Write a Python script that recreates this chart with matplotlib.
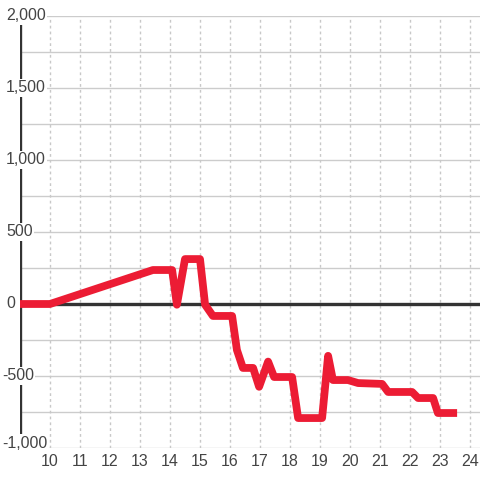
import matplotlib
matplotlib.use('agg')
import matplotlib.pyplot as plt
from matplotlib.transforms import blended_transform_factory, offset_copy

plt.rcParams['font.family'] = ['Liberation Sans', 'DejaVu Sans']

# series
x_vals = [9, 10, 13.43, 14.07, 14.23, 14.5, 15.0, 15.17, 15.43, 16.07, 16.23, 16.43,
          16.77, 16.97, 17.27, 17.47, 18.07, 18.27, 19.07, 19.27, 19.43, 19.93,
          20.27, 21.07, 21.27, 22.07, 22.27, 22.77, 22.93, 23.57]
y_vals = [0, 0, 236, 236, -5, 312, 312, -5, -83, -83, -319, -444,
          -444, -575, -400, -507, -507, -792, -792, -360, -528, -528,
          -549, -555, -611, -611, -653, -653, -757, -757]
x_ticks = list(range(10, 25))
y_ticks = [-1000, -500, 0, 500, 1000, 1500, 2000]
y_grid = list(range(-1000, 2001, 250))

fig = plt.figure(figsize=(4.8, 4.8), dpi=100)
ax = fig.add_axes([20/480., 32/480., 460/480., 432/480.])
ax.set_xlim(9, 9 + 460/30.)
ax.set_ylim(-1000, 2000)

for s in ax.spines.values():
    s.set_visible(False)

for v in y_grid:
    ax.axhline(v, color='#cccccc', lw=1, zorder=1)
for v in x_ticks:
    ax.axvline(v, color='#c8c8c8', lw=1, ls=(0, (2, 2.2)), zorder=1)

ax.axhline(0, color='#333333', lw=2.4, zorder=2)
ax.axvline(9, color='#333333', lw=2.4, zorder=2)

ax.plot(x_vals, y_vals, color='#ec1c34', lw=5.6, zorder=3,
        solid_joinstyle='round', solid_capstyle='butt')

ax.set_xticks(x_ticks)
ax.set_xticklabels([str(t) for t in x_ticks])
ax.tick_params(axis='x', length=0, pad=4, labelsize=11.5, labelcolor='#444444')
ax.set_yticks([])

tr = blended_transform_factory(fig.transFigure, ax.transData)
for t in y_ticks:
    lab = '{:,}'.format(t)
    px = 2 if t < 0 else 6
    ttr = tr
    if t == y_ticks[0]:
        ttr = offset_copy(tr, fig=fig, y=5, units='dots')
    ax.text(px/480., t, lab, transform=ttr, ha='left', va='center',
            fontsize=11.5, color='#444444', zorder=5, clip_on=False,
            bbox=dict(facecolor='white', edgecolor='none', pad=1.0))

fig.savefig('out.png', dpi=100)
